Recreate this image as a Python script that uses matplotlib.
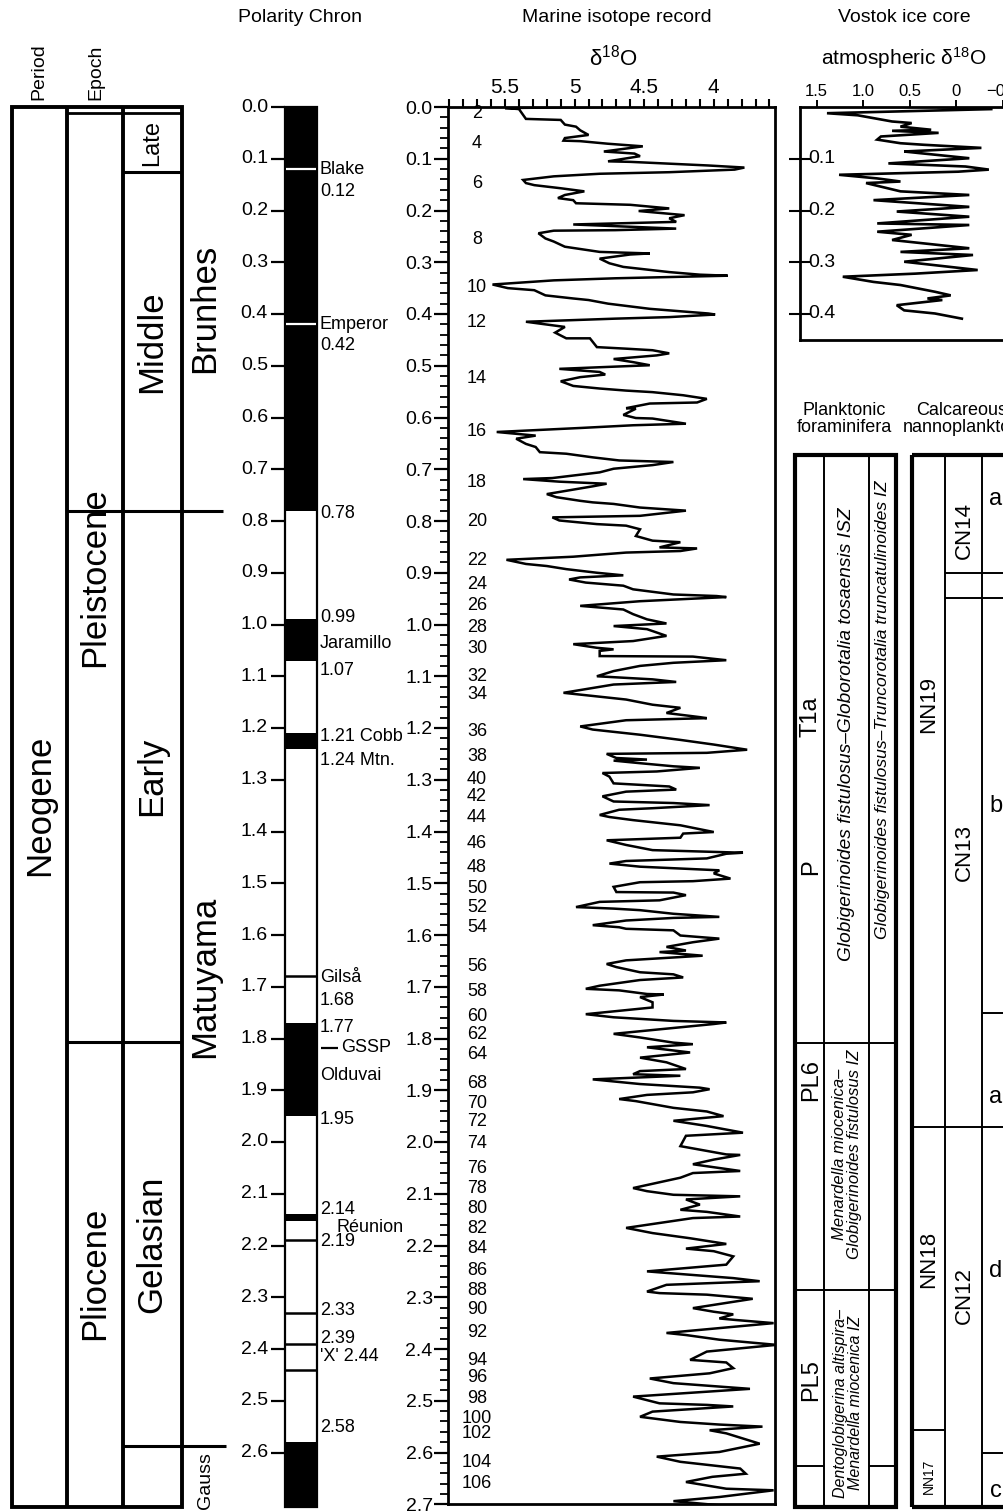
import numpy as np
import matplotlib
matplotlib.use("Agg")
import matplotlib.pyplot as plt
from matplotlib.patches import Rectangle
from matplotlib.transforms import blended_transform_factory

plt.rcParams['font.family'] = ['Liberation Sans', 'DejaVu Sans']
plt.rcParams['mathtext.fontset'] = 'custom'
plt.rcParams['mathtext.rm'] = 'Liberation Sans'
plt.rcParams['mathtext.it'] = 'Liberation Sans:italic'
plt.rcParams['mathtext.bf'] = 'Liberation Sans:bold'

# ---------------- data ----------------
# marine isotope record: (age Ma, d18O permil)
iso_pts = [
    (0.000, 4.75), (0.002, 5.50), (0.004, 5.40), (0.023, 5.35), (0.025, 5.10), (0.034, 5.07), (0.038, 4.99),
    (0.045, 4.96), (0.054, 4.90), (0.060, 5.07), (0.065, 5.08), (0.066, 4.96), (0.071, 4.76), (0.076, 4.51),
    (0.081, 4.65), (0.086, 4.79), (0.090, 4.57), (0.095, 4.53), (0.105, 4.76), (0.106, 4.60), (0.113, 4.04),
    (0.117, 3.78), (0.121, 3.85), (0.126, 4.32), (0.129, 4.82), (0.134, 5.15), (0.141, 5.37), (0.147, 5.35),
    (0.151, 5.29), (0.157, 5.10), (0.163, 4.93), (0.170, 5.07), (0.176, 5.12), (0.180, 5.01), (0.186, 4.99),
    (0.189, 4.60), (0.196, 4.32), (0.201, 4.54), (0.209, 4.21), (0.215, 4.32), (0.222, 4.27), (0.227, 5.01),
    (0.235, 4.27), (0.238, 4.71), (0.239, 5.15), (0.244, 5.26), (0.254, 5.21), (0.260, 5.15), (0.270, 5.07),
    (0.280, 4.82), (0.283, 4.46), (0.285, 4.60), (0.293, 4.82), (0.302, 4.75), (0.309, 4.65), (0.319, 4.32),
    (0.324, 4.10), (0.326, 3.90), (0.331, 4.71), (0.335, 5.15), (0.343, 5.59), (0.350, 5.48), (0.354, 5.29),
    (0.364, 5.21), (0.370, 5.01), (0.373, 4.90), (0.380, 4.76), (0.390, 4.46), (0.399, 4.04), (0.401, 3.99),
    (0.406, 4.32), (0.409, 4.71), (0.415, 5.35), (0.425, 5.07),
    (0.436, 5.14), (0.447, 5.06), (0.447, 4.89), (0.464, 4.84), (0.467, 4.63), (0.470, 4.44), (0.476, 4.32),
    (0.480, 4.41), (0.487, 4.72), (0.493, 4.58), (0.499, 4.46), (0.506, 5.11), (0.512, 4.82), (0.517, 4.78),
    (0.522, 4.96), (0.530, 5.10), (0.539, 5.01), (0.544, 4.82), (0.548, 4.63), (0.551, 4.44), (0.557, 4.22),
    (0.564, 4.05), (0.571, 4.12), (0.573, 4.46), (0.582, 4.63), (0.583, 4.56), (0.595, 4.65), (0.601, 4.56),
    (0.602, 4.44), (0.612, 4.20), (0.615, 4.58), (0.620, 4.94), (0.628, 5.56), (0.635, 5.28), (0.641, 5.42),
    (0.651, 5.35), (0.657, 5.28), (0.667, 5.25), (0.670, 5.06), (0.677, 4.87), (0.683, 4.68), (0.686, 4.29),
    (0.692, 4.44), (0.699, 4.72), (0.706, 4.82), (0.717, 5.16), (0.719, 5.37), (0.724, 5.11), (0.728, 4.77),
    (0.733, 4.87), (0.748, 5.20), (0.754, 5.13), (0.761, 4.96), (0.764, 4.87), (0.767, 4.72), (0.774, 4.53),
    (0.780, 4.20), (0.790, 4.53), (0.793, 5.16), (0.799, 5.11), (0.806, 4.84), (0.809, 4.63), (0.816, 4.53),
    (0.829, 4.56), (0.838, 4.44), (0.841, 4.24), (0.851, 4.39), (0.853, 4.12), (0.858, 4.24), (0.861, 4.63),
    (0.869, 5.01), (0.875, 5.49), (0.883, 5.35), (0.887, 5.20), (0.893, 5.06), (0.900, 4.84), (0.905, 4.65),
    (0.909, 4.96), (0.913, 5.04), (0.919, 4.92), (0.925, 4.65), (0.932, 4.58), (0.942, 4.29), (0.945, 3.98),
    (0.947, 3.91), (0.955, 4.53), (0.964, 4.96), (0.971, 4.65), (0.980, 4.58), (0.990, 4.48), (0.998, 4.34),
    (1.003, 4.72), (1.009, 4.48), (1.022, 4.34), (1.032, 4.58), (1.038, 5.01), (1.045, 4.84), (1.048, 4.72),
    (1.051, 4.82), (1.061, 4.82), (1.062, 4.15), (1.069, 3.91), (1.074, 4.29), (1.080, 4.53), (1.090, 4.72),
    (1.100, 4.84), (1.106, 4.44), (1.111, 4.27), (1.116, 4.72), (1.132, 5.08), (1.139, 4.84), (1.145, 4.63),
    (1.155, 4.44), (1.161, 4.24), (1.171, 4.34), (1.179, 4.10), (1.181, 4.05), (1.185, 4.63), (1.197, 4.96),
    (1.203, 4.87), (1.213, 4.53), (1.223, 4.24), (1.232, 4.00), (1.242, 3.76), (1.248, 4.05), (1.250, 4.77),
    (1.258, 4.70), (1.261, 4.48), (1.263, 4.72), (1.268, 4.53), (1.274, 4.29), (1.277, 4.10), (1.284, 4.41),
    (1.287, 4.80), (1.294, 4.75), (1.307, 4.72), (1.313, 4.32), (1.319, 4.27), (1.323, 4.63), (1.332, 4.80),
    (1.342, 4.72), (1.345, 4.29), (1.349, 4.03), (1.355, 4.44), (1.358, 4.68), (1.368, 4.82), (1.372, 4.75),
    (1.378, 4.58),
    (1.388, 4.24), (1.401, 4.00), (1.404, 4.22), (1.412, 4.24), (1.417, 4.77), (1.426, 4.63), (1.436, 4.44),
    (1.441, 3.79), (1.443, 3.91), (1.452, 4.05), (1.457, 4.63), (1.462, 4.75), (1.468, 4.53), (1.475, 3.96),
    (1.481, 4.00), (1.491, 3.88), (1.496, 4.15), (1.498, 4.53), (1.507, 4.72), (1.517, 4.70), (1.518, 4.29),
    (1.523, 4.20), (1.533, 4.39), (1.536, 4.82), (1.546, 4.99), (1.549, 4.72), (1.552, 4.53), (1.559, 4.29),
    (1.565, 3.96), (1.567, 4.29), (1.572, 4.63), (1.581, 4.87), (1.585, 4.68), (1.588, 4.63), (1.591, 4.29),
    (1.601, 4.24), (1.607, 3.96), (1.614, 4.15), (1.623, 4.34), (1.630, 4.20), (1.633, 4.39), (1.640, 4.08),
    (1.649, 4.63), (1.656, 4.77), (1.662, 4.70), (1.672, 4.53), (1.676, 4.29), (1.682, 4.22), (1.687, 4.53),
    (1.698, 4.82), (1.704, 4.92), (1.707, 4.68), (1.714, 4.48), (1.715, 4.36), (1.720, 4.53), (1.730, 4.44),
    (1.740, 4.44), (1.749, 4.77), (1.753, 4.92), (1.759, 4.72), (1.766, 4.29), (1.769, 3.91), (1.772, 4.00),
    (1.791, 4.72), (1.798, 4.53), (1.808, 4.29), (1.811, 4.15), (1.817, 4.48), (1.827, 4.17), (1.837, 4.53),
    (1.846, 4.34), (1.859, 4.20), (1.863, 4.53), (1.869, 4.58), (1.872, 4.24), (1.879, 4.87), (1.888, 4.53),
    (1.895, 4.10), (1.898, 4.03), (1.904, 4.15), (1.909, 4.48), (1.917, 4.68), (1.921, 4.56), (1.934, 4.29),
    (1.941, 4.05), (1.950, 3.93), (1.959, 4.29), (1.969, 4.05), (1.982, 3.79), (1.988, 4.20), (2.008, 4.24),
    (2.024, 3.91), (2.025, 3.81), (2.034, 4.00), (2.043, 4.15), (2.056, 3.81), (2.060, 4.15), (2.069, 4.24),
    (2.089, 4.58), (2.095, 4.48), (2.102, 4.29), (2.105, 3.81), (2.111, 4.20), (2.121, 4.10), (2.131, 4.24),
    (2.135, 4.05), (2.144, 3.81), (2.147, 4.15), (2.160, 4.48), (2.166, 4.63), (2.176, 4.44), (2.186, 4.17),
    (2.197, 3.91), (2.206, 4.20), (2.211, 4.00), (2.221, 3.86), (2.237, 3.91), (2.250, 4.48), (2.253, 4.34),
    (2.263, 3.86), (2.269, 3.67), (2.276, 4.34), (2.289, 4.48), (2.292, 4.39), (2.295, 4.05), (2.303, 3.72),
    (2.311, 3.91), (2.321, 4.15), (2.328, 4.00), (2.333, 3.86), (2.341, 3.96),
    (2.344, 3.84), (2.350, 3.57), (2.369, 4.34), (2.373, 4.20), (2.382, 3.96), (2.392, 3.55), (2.405, 4.05),
    (2.421, 4.17), (2.426, 3.91), (2.437, 3.86), (2.447, 4.03), (2.457, 4.46), (2.466, 4.29), (2.477, 3.74),
    (2.492, 4.58), (2.505, 4.39), (2.508, 4.05), (2.511, 3.86), (2.521, 4.44), (2.531, 4.53), (2.541, 4.24),
    (2.546, 3.96), (2.550, 3.65), (2.557, 4.03), (2.563, 3.91), (2.583, 3.67), (2.599, 3.96), (2.608, 4.41),
    (2.618, 4.24), (2.631, 3.81), (2.641, 3.77), (2.647, 4.01), (2.657, 4.20), (2.670, 3.91), (2.673, 3.57),
    (2.686, 3.96), (2.694, 4.29), (2.702, 3.96),
]

# Vostok atmospheric d18O: (age Ma, d18O permil)
vostok_pts = [
    (0.000, 0.19), (0.004, -0.39), (0.012, 1.39), (0.016, 1.06), (0.028, 0.69), (0.031, 0.48), (0.038, 0.60),
    (0.044, 0.27), (0.046, 0.69), (0.050, 0.19), (0.057, 0.81), (0.063, 0.85), (0.070, 0.60), (0.073, 0.35),
    (0.079, -0.27), (0.086, 0.56), (0.089, 0.40), (0.099, -0.14), (0.109, 0.73), (0.115, -0.10), (0.121, -0.35),
    (0.125, -0.02), (0.131, 1.26), (0.138, 0.85), (0.144, 0.60), (0.147, 0.97), (0.163, 0.60), (0.170, -0.14),
    (0.180, 0.89), (0.193, -0.14), (0.202, 0.64), (0.212, -0.14), (0.225, 0.85), (0.228, -0.14), (0.241, 0.85),
    (0.247, 0.48), (0.257, 0.69), (0.273, -0.14), (0.280, 0.60), (0.286, -0.18), (0.299, 0.56), (0.315, -0.23),
    (0.322, 0.44), (0.328, 1.22), (0.338, 0.89), (0.344, 0.60), (0.357, 0.23), (0.364, 0.06), (0.370, 0.31),
    (0.373, 0.15), (0.383, 0.64), (0.393, 0.56), (0.399, 0.23), (0.409, -0.06),
]

# marine isotope stages and their ages
mis_stage = [2, 4, 6, 8, 10, 12, 14, 16, 18, 20, 22, 24, 26, 28, 30, 32, 34, 36, 38, 40, 42, 44, 46, 48,
             50, 52, 54, 56, 58, 60, 62, 64, 68, 70, 72, 74, 76, 78, 80, 82, 84, 86, 88, 90, 92, 94, 96,
             98, 100, 102, 104, 106]
mis_age = [0.012, 0.070, 0.147, 0.257, 0.348, 0.416, 0.524, 0.628, 0.725, 0.800, 0.877, 0.922, 0.964,
           1.005, 1.047, 1.101, 1.136, 1.206, 1.256, 1.300, 1.333, 1.372, 1.424, 1.469, 1.511, 1.546,
           1.585, 1.660, 1.710, 1.757, 1.793, 1.830, 1.886, 1.925, 1.961, 2.002, 2.052, 2.089, 2.128,
           2.168, 2.205, 2.249, 2.286, 2.323, 2.369, 2.422, 2.456, 2.495, 2.534, 2.563, 2.619, 2.660]

# geomagnetic polarity (Ma)
normal_top = [0.00, 0.99, 1.21, 1.77, 2.14, 2.58]
normal_base = [0.78, 1.07, 1.24, 1.95, 2.153, 2.705]
excursion_age = [0.12, 0.42]
event_age = [1.68, 2.19, 2.33, 2.39, 2.44]
pol_ticks = [0.0, 0.1, 0.2, 0.3, 0.4, 0.5, 0.6, 0.7, 0.8, 0.9, 1.0, 1.1, 1.2, 1.3,
             1.4, 1.5, 1.6, 1.7, 1.8, 1.9, 2.0, 2.1, 2.2, 2.3, 2.4, 2.5, 2.6]
pol_notes = ["Blake", "0.12", "Emperor", "0.42", "0.78", "0.99", "Jaramillo", "1.07", "1.21 Cobb",
             "1.24 Mtn.", "Gilså", "1.68", "1.77", "Olduvai", "1.95", "2.14", "2.19", "2.33", "2.39",
             "'X' 2.44", "2.58"]
pol_note_age = [0.120, 0.164, 0.420, 0.460, 0.785, 0.986, 1.036, 1.088, 1.217, 1.262, 1.683, 1.726,
                1.778, 1.871, 1.957, 2.131, 2.193, 2.325, 2.379, 2.415, 2.551]
gssp_age = 1.806
chron_names = ["Brunhes", "Matuyama"]
chron_mid = [0.39, 1.68]

# chronostratigraphy
holocene_base = 0.0117
late_base = 0.126
middle_base = 0.781
gelasian_base = 1.806
piacenzian_top = 2.588

# biozone boundaries
foram_full = [1.809, 2.286]
foram_part = [2.627]
nanno_cn = [0.900, 0.949]
nanno_sub = [1.751, 2.601]
nanno_all = [1.971]
nanno_nn = [2.557]

vostok_ticks = [1.5, 1.0, 0.5, 0.0, -0.5]
vostok_ticklabels = ["1.5", "1.0", "0.5", "0", "\u22120.5"]
vostok_age_ticks = [0.1, 0.2, 0.3, 0.4]
iso_major = [5.5, 5.0, 4.5, 4.0]
iso_majorlabels = ["5.5", "5", "4.5", "4"]

# ---------------- layout ----------------
W, H = 1004, 1512
Y0, PX_MA = 107.0, 517.5   # pixel row of 0 Ma, pixels per Ma
AGE_MAX = 2.7


def rect(x0, x1, a0, a1):
    y0 = Y0 + PX_MA * a0
    y1 = Y0 + PX_MA * a1
    return [x0 / W, 1 - y1 / H, (x1 - x0) / W, (y1 - y0) / H]


def ftext(x, y, s, **kw):
    fig.text(x / W, 1 - y / H, s, **kw)


fig = plt.figure(figsize=(W / 100, H / 100), dpi=100)

# strat axes: x in pixel columns, y in Ma
ax = fig.add_axes(rect(0, W, 0, AGE_MAX))
ax.set_xlim(0, W)
ax.set_ylim(AGE_MAX, 0)
ax.axis('off')

BOT = 2.705
kw_line = dict(color='k', capstyle='butt', clip_on=False)

# period / epoch / stage box
ax.add_patch(Rectangle((12, 0), 170, BOT, fill=False, lw=2.8, ec='k', clip_on=False, joinstyle='miter'))
ax.vlines([67, 123], 0, BOT, lw=2.8, **kw_line)
ax.hlines(holocene_base, 67, 182, lw=2.0, **kw_line)
ax.hlines(late_base, 123, 182, lw=2.2, **kw_line)
ax.hlines(middle_base, 67, 223, lw=2.2, **kw_line)
ax.hlines(gelasian_base, 67, 182, lw=2.2, **kw_line)
ax.hlines(piacenzian_top, 123, 226, lw=2.2, **kw_line)

big = dict(rotation=90, ha='center', va='center', fontsize=25)
ax.text(40, 1.35, "Neogene", **big)
ax.text(95, (holocene_base + gelasian_base) / 2, "Pleistocene", **big)
ax.text(95, (gelasian_base + AGE_MAX) / 2, "Pliocene", **big)
ax.text(152, 0.069, "Late", rotation=90, ha='center', va='center', fontsize=17)
ax.text(152, (late_base + middle_base) / 2, "Middle", **big)
ax.text(152, (middle_base + gelasian_base) / 2, "Early", **big)
ax.text(152, (gelasian_base + piacenzian_top) / 2, "Gelasian", **big)
for name, mid in zip(chron_names, chron_mid):
    ax.text(205, mid, name, **big)
ax.text(206, 2.655, "Gauss", rotation=90, ha='center', va='center', fontsize=14)

# polarity column
for top, base in zip(normal_top, normal_base):
    ax.add_patch(Rectangle((285, top), 32, base - top, color='k', lw=0, clip_on=False))
ax.hlines(excursion_age, 286, 316, color='white', lw=1.6)
ax.hlines(event_age, 285, 317, color='k', lw=1.8)
ax.add_patch(Rectangle((285, 0), 32, BOT, fill=False, lw=1.6, ec='k', clip_on=False))
ax.hlines(pol_ticks, 271, 285, lw=1.6, **kw_line)
for t in pol_ticks:
    ax.text(268, t, f"{t:.1f}", ha='right', va='center', fontsize=14)
for s, a in zip(pol_notes, pol_note_age):
    ax.text(320, a, s, ha='left', va='center', fontsize=13)
ax.text(337, 2.166, "Réunion", ha='left', va='center', fontsize=13)
ax.hlines(gssp_age + 0.012, 321, 338, lw=1.6, **kw_line)
ax.text(341, gssp_age + 0.012, "GSSP", ha='left', va='center', fontsize=13)

# planktonic foraminifera
FT = 0.672
ax.add_patch(Rectangle((795, FT), 101, BOT - FT, fill=False, lw=3.0, ec='k', clip_on=False, joinstyle='miter'))
ax.vlines([824, 869], FT, BOT, lw=1.4, **kw_line)
ax.hlines(foram_full, 795, 896, lw=1.4, **kw_line)
ax.hlines(foram_part, 795, 824, lw=1.4, **kw_line)
ax.hlines(foram_part, 869, 896, lw=1.4, **kw_line)
ax.text(811, 1.179, "T1a", rotation=90, ha='center', va='center', fontsize=17)
ax.text(811, 1.469, "P", rotation=90, ha='center', va='center', fontsize=17)
ax.text(811, 1.880, "PL6", rotation=90, ha='center', va='center', fontsize=17)
ax.text(811, 2.460, "PL5", rotation=90, ha='center', va='center', fontsize=17)
ax.text(847, 0.774, "Globigerinoides fistulosus\u2013Globorotalia tosaensis ISZ",
        rotation=90, ha='center', va='top', fontsize=13.8, style='italic')
ax.text(883, 0.722, "Globigerinoides fistulosus\u2013Truncorotalia truncatulinoides IZ",
        rotation=90, ha='center', va='top', fontsize=12.6, style='italic')
ax.text(847, 1.822, "Menardella miocenica\u2013\nGlobigerinoides fistulosus IZ",
        rotation=90, ha='center', va='top', fontsize=12, style='italic', linespacing=0.92)
ax.text(848, 2.687, "Dentoglobigerina altispira\u2013\nMenardella miocenica IZ",
        rotation=90, ha='center', va='bottom', fontsize=11.5, style='italic', linespacing=0.92)

# calcareous nannoplankton
ax.hlines(FT, 912, 1010, lw=3.0, **kw_line)
ax.vlines(912, FT, BOT, lw=3.0, **kw_line)
ax.hlines(BOT, 912, 1010, lw=3.0, **kw_line)
ax.vlines([945, 982], FT, BOT, lw=1.4, **kw_line)
ax.hlines(nanno_cn, 945, 1010, lw=1.4, **kw_line)
ax.hlines(nanno_sub, 982, 1010, lw=1.4, **kw_line)
ax.hlines(nanno_all, 912, 1010, lw=1.4, **kw_line)
ax.hlines(nanno_nn, 912, 945, lw=1.4, **kw_line)
zone = dict(rotation=90, ha='center', va='center', fontsize=16)
ax.text(929, 1.154, "NN19", **zone)
ax.text(929, 2.226, "NN18", **zone)
ax.text(929, 2.646, "NN17", rotation=90, ha='center', va='center', fontsize=10)
ax.text(964, 0.819, "CN14", **zone)
ax.text(964, 1.440, "CN13", **zone)
ax.text(964, 2.297, "CN12", **zone)
for s, a in zip(["a", "b", "a", "d", "c"], [0.757, 1.350, 1.914, 2.249, 2.675]):
    ax.text(996, a, s, ha='center', va='center', fontsize=17)

# headers
ftext(300, 18, "Polarity Chron", ha='center', va='center', fontsize=14)
ftext(39, 100, "Period", rotation=90, ha='center', va='bottom', fontsize=14)
ftext(96, 100, "Epoch", rotation=90, ha='center', va='bottom', fontsize=14)
ftext(617, 18, "Marine isotope record", ha='center', va='center', fontsize=14)
ftext(613, 58, "\u03b4$^{18}$O", ha='center', va='center', fontsize=16)
ftext(904, 18, "Vostok ice core", ha='center', va='center', fontsize=14)
ftext(904, 58, "atmospheric \u03b4$^{18}$O", ha='center', va='center', fontsize=15)
ftext(844, 419, "Planktonic\nforaminifera", ha='center', va='center', fontsize=13, linespacing=0.95)
ftext(962, 419, "Calcareous\nnannoplankton", ha='center', va='center', fontsize=13, linespacing=0.95)

# ---------------- marine isotope panel ----------------
iso_age, iso_d18o = np.array(iso_pts).T
ax_iso = fig.add_axes(rect(448, 775, 0, AGE_MAX))
ax_iso.plot(iso_d18o, iso_age, color='k', lw=1.8, solid_joinstyle='miter')
ax_iso.set_xlim(5.91, 3.56)
ax_iso.set_ylim(AGE_MAX, 0)
ax_iso.xaxis.tick_top()
ax_iso.set_xticks(iso_major, iso_majorlabels)
ax_iso.set_xticks(np.round(np.arange(3.6, 5.95, 0.1), 1), minor=True)
ax_iso.tick_params(axis='x', which='major', direction='out', length=6, width=1.5, labelsize=15, pad=1)
ax_iso.tick_params(axis='x', which='minor', direction='out', length=6, width=1.5)
ax_iso.set_yticks(pol_ticks + [2.7], [f"{t:.1f}" for t in pol_ticks + [2.7]])
ax_iso.set_yticks(np.round(np.arange(0, 2.701, 0.02), 2), minor=True)
ax_iso.tick_params(axis='y', which='major', length=10, width=1.6, labelsize=14, pad=1)
ax_iso.tick_params(axis='y', which='minor', length=6, width=1.3)
for sp in ax_iso.spines.values():
    sp.set_linewidth(2.0)
tr = blended_transform_factory(ax_iso.transAxes, ax_iso.transData)
for st, a in zip(mis_stage, mis_age):
    ax_iso.text(0.089, a, str(st), transform=tr, ha='center', va='center', fontsize=13)

# ---------------- Vostok panel ----------------
v_age, v_d18o = np.array(vostok_pts).T
ax_v = fig.add_axes(rect(800, 1040, 0, 0.45))
ax_v.plot(v_d18o, v_age, color='k', lw=1.9, solid_joinstyle='miter')
ax_v.set_xlim(1.68, -0.90)
ax_v.set_ylim(0.45, 0)
ax_v.xaxis.tick_top()
ax_v.set_xticks(vostok_ticks, vostok_ticklabels)
ax_v.tick_params(axis='x', direction='out', length=5, width=1.4, labelsize=12, pad=1)
ax_v.set_yticks(vostok_age_ticks, [])
ax_v.tick_params(axis='y', direction='inout', length=16, width=1.5)
for sp in ax_v.spines.values():
    sp.set_linewidth(2.0)
trv = blended_transform_factory(ax_v.transAxes, ax_v.transData)
for t in vostok_age_ticks:
    ax_v.text(0.035, t, f"{t:.1f}", transform=trv, ha='left', va='center', fontsize=14)

fig.savefig("out.png", dpi=100)
